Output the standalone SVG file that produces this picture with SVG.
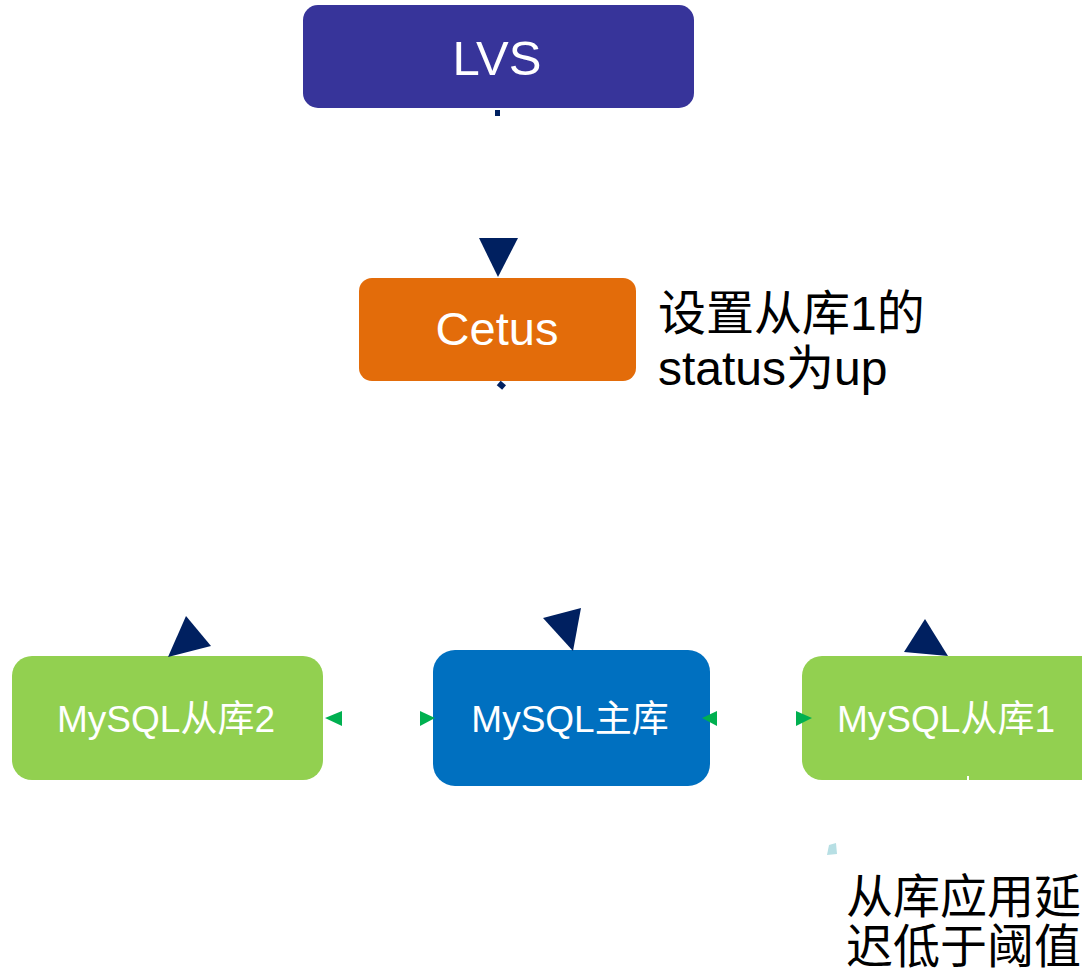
<svg xmlns="http://www.w3.org/2000/svg" width="1082" height="972" viewBox="0 0 1082 972">
<style>
.lbl{font-family:"Liberation Sans","Noto Sans CJK SC",Arial,sans-serif;fill:#fff;text-anchor:middle}
.note{font-family:"Liberation Sans","Noto Sans CJK SC",sans-serif;fill:#000;font-size:48px}
.snote{font-family:"Noto Sans CJK SC",serif;fill:#000;font-size:47px}
.nav{fill:#002060}
.grn{fill:#00B050}
</style>
<rect width="1082" height="972" fill="#fff"/>
<g id="lvs">
<rect x="303" y="5" width="391" height="103" rx="15" fill="#37349A"/>
<text class="lbl" x="497" y="75" font-size="49">LVS</text>
</g>
<g id="cetus">
<rect x="359" y="278" width="277" height="103" rx="13" fill="#E36C0A"/>
<text class="lbl" x="497" y="345" font-size="47">Cetus</text>
</g>
<g id="slave2">
<rect x="12" y="656" width="311" height="124" rx="20" fill="#92D050"/>
<text class="lbl" x="166" y="732" font-size="37">MySQL从库2</text>
</g>
<g id="master">
<rect x="433" y="650" width="277" height="136" rx="22" fill="#0070C0"/>
<text class="lbl" x="570" y="732" font-size="37">MySQL主库</text>
</g>
<g id="slave1">
<rect x="802" y="656" width="300" height="124" rx="20" fill="#92D050"/>
<text class="lbl" x="946" y="732" font-size="37">MySQL从库1</text>
</g>
<g id="note-status">
<text class="note" x="658" y="330">设置从库1的</text>
<text class="note" x="658" y="385">status为up</text>
</g>
<g id="note-delay">
<text class="snote" x="846" y="913">从库应用延</text>
<text class="snote" x="846" y="963">迟低于阈值</text>
</g>
<g id="connectors">
<rect class="nav" x="495" y="110" width="5" height="6"/>
<polygon class="nav" points="479,238 518,238 498,277"/>
<rect class="nav" x="498" y="382" width="7" height="6" transform="rotate(40 501 385)"/>
<polygon class="nav" points="168,657 186,616 211,646"/>
<polygon class="nav" points="543,618 581,608 573,651"/>
<polygon class="nav" points="925,619 904,652 948,656"/>
<polygon class="grn" points="325,718 342,711 342,726"/>
<polygon class="grn" points="420,711 420,726 435,718"/>
<polygon class="grn" points="702,718 717,711 717,726"/>
<polygon class="grn" points="796,711 796,726 812,718"/>
<path d="M829,845 L836,843 L837,854 L827,855 Z" fill="#B7DFE4"/>
<rect x="967" y="776" width="2" height="8" fill="#fff"/>
</g>
</svg>
